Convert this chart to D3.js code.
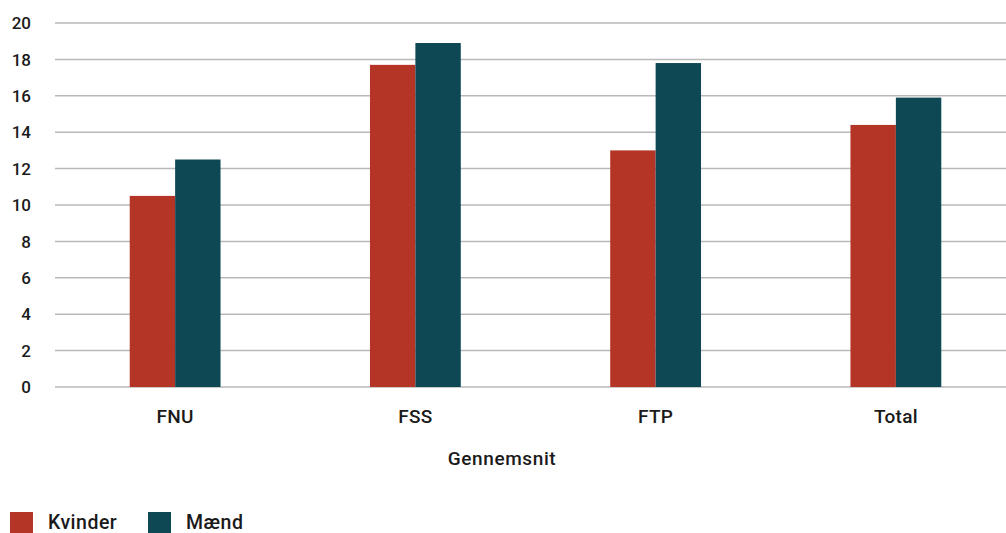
<!DOCTYPE html>
<html><head><meta charset="utf-8">
<script src="https://cdn.jsdelivr.net/npm/d3@7"></script>
<style>
body{margin:0;background:#fff;}
text{font-family:Roboto,"Noto Sans",sans-serif;fill:#1a1a1a;}
</style></head>
<body><svg id="c" width="1006" height="533"></svg>
<script>
const categories = ["FNU","FSS","FTP","Total"];
const seriesNames = ["Kvinder","Mænd"];
const kvinder = [10.5,17.7,13.0,14.4];
const maend = [12.5,18.9,17.8,15.9];
const yTicks = [0,2,4,6,8,10,12,14,16,18,20];
const colors = ["#b43426","#0e4855"];

const svg = d3.select("#c");
const mLeft = 55, mRight = 1016, mTop = 23, mBottom = 387;
const x = d3.scaleBand().domain(categories).range([mLeft,mRight]).paddingInner(0.622).paddingOuter(0.311);
const xs = d3.scaleBand().domain(seriesNames).range([0,x.bandwidth()]);
const y = d3.scaleLinear().domain([0,20]).range([mBottom,mTop]);

// gridlines
svg.append("g").selectAll("line").data(yTicks).join("line")
  .attr("x1",mLeft).attr("x2",1006)
  .attr("y1",d=>y(d)).attr("y2",d=>y(d))
  .attr("stroke","#b9b9b9").attr("stroke-width",1.5);

// y labels
svg.append("g").selectAll("text").data(yTicks).join("text")
  .attr("x",31).attr("y",d=>y(d)).attr("dy","0.36em")
  .attr("text-anchor","end").attr("font-size",17).attr("font-weight",500)
  .text(d=>d);

const data = categories.map((c,i)=>({c, vals:[kvinder[i],maend[i]]}));
const g = svg.append("g").selectAll("g").data(data).join("g")
  .attr("transform",d=>`translate(${x(d.c)},0)`);
g.selectAll("rect").data(d=>d.vals.map((v,j)=>({s:seriesNames[j],v,j}))).join("rect")
  .attr("x",d=>xs(d.s)).attr("width",xs.bandwidth())
  .attr("y",d=>y(d.v)).attr("height",d=>y(0)-y(d.v))
  .attr("fill",d=>colors[d.j]);

// category labels
svg.append("g").selectAll("text").data(categories).join("text")
  .attr("x",d=>x(d)+x.bandwidth()/2).attr("y",423)
  .attr("text-anchor","middle").attr("font-size",19).attr("font-weight",500)
  .attr("letter-spacing","0.3px")
  .text(d=>d);

svg.append("text").attr("x",502).attr("y",465).attr("text-anchor","middle")
  .attr("font-size",19).attr("font-weight",500).attr("letter-spacing","0.6px").text("Gennemsnit");

// legend
const legX = [10,148];
const lg = svg.append("g").selectAll("g").data(seriesNames).join("g")
  .attr("transform",(d,i)=>`translate(${legX[i]},512)`);
lg.append("rect").attr("width",23).attr("height",23).attr("fill",(d,i)=>colors[i]);
lg.append("text").attr("x",38).attr("y",16.5).attr("font-size",19.5).attr("font-weight",500)
  .attr("letter-spacing","0.5px").text(d=>d);
</script></body></html>
